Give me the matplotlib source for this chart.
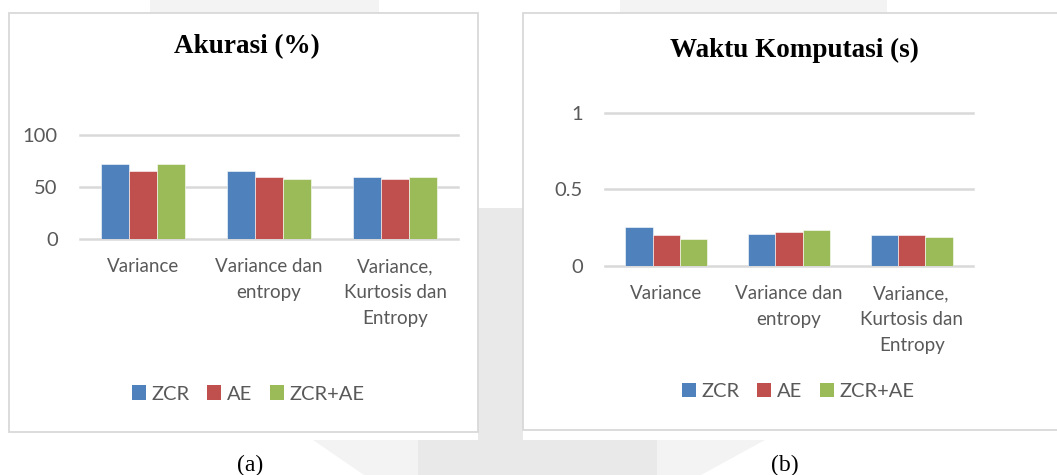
import matplotlib
matplotlib.use('Agg')
import matplotlib.pyplot as plt
import numpy as np
from matplotlib.patches import Rectangle, Polygon, Patch

# ---- data ----
categories = ["Variance", "Variance dan\nentropy", "Variance,\nKurtosis dan\nEntropy"]
series = ["ZCR", "AE", "ZCR+AE"]
akurasi_zcr = [72, 65, 60]
akurasi_ae = [65, 60, 57.5]
akurasi_zcrae = [72, 57.5, 60]
waktu_zcr = [0.255, 0.21, 0.2]
waktu_ae = [0.2, 0.22, 0.2]
waktu_zcrae = [0.175, 0.235, 0.19]
akurasi_ticks = [0, 50, 100]
akurasi_ticklabels = ["0", "50", "100"]
waktu_ticks = [0, 0.5, 1]
waktu_ticklabels = ["0", "0.5", "1"]
titles = ["Akurasi (%)", "Waktu Komputasi (s)"]
captions = ["(a)", "(b)"]

colors = ["#4F81BD", "#C0504D", "#9BBB59"]
grid_c = "#D9D9D9"
text_c = "#595959"
sans = ["Lato", "DejaVu Sans"]
serif = ["Liberation Serif", "DejaVu Serif"]

W, H = 1057, 475
fig = plt.figure(figsize=(W / 100, H / 100), dpi=100)
fig.patch.set_facecolor("white")

# background (pixel coordinates)
bg = fig.add_axes([0, 0, 1, 1], zorder=-10)
bg.set_xlim(0, W)
bg.set_ylim(H, 0)
bg.axis("off")
light, mid = "#F3F3F3", "#E9E9E9"
bg.add_patch(Rectangle((150, 0), 229, 13, color=light, lw=0))
bg.add_patch(Rectangle((620, 0), 267, 13, color=light, lw=0))
bg.add_patch(Rectangle((478, 208), 45, 235, color=mid, lw=0))
bg.add_patch(Polygon([(313, 440), (418, 440), (418, 475), (364, 475)], color=light, lw=0))
bg.add_patch(Rectangle((418, 440), 239, 35, color=mid, lw=0))
bg.add_patch(Polygon([(657, 440), (765, 440), (701, 475), (657, 475)], color=light, lw=0))
# panels
bg.add_patch(Rectangle((8.8, 12.7), 468.7, 418.8, facecolor="white", edgecolor=grid_c, lw=1.3))
bg.add_patch(Rectangle((522.7, 13.3), 545, 416.7, facecolor="white", edgecolor=grid_c, lw=1.3))


def px_axes(x0, x1, ytop, ybot):
    return fig.add_axes([x0 / W, 1 - ybot / H, (x1 - x0) / W, (ybot - ytop) / H])


def draw(ax, vals, ticks, ticklabels):
    x = np.arange(len(categories))
    bw = 0.222
    for i, (v, c) in enumerate(zip(vals, colors)):
        ax.bar(x + (i - 1) * bw, v, bw, color=c, edgecolor="white", linewidth=0.4, zorder=2, label=series[i])
    for t in ticks:
        ax.axhline(t, color=grid_c, lw=1.8, zorder=0.5, clip_on=False)
    ax.set_xlim(-0.5, len(categories) - 0.5)
    ax.set_ylim(ticks[0], ticks[-1])
    ax.set_yticks(ticks)
    ax.set_yticklabels(ticklabels, fontsize=14.5, color=text_c, family=sans)
    ax.set_xticks(x)
    ax.set_xticklabels(categories, fontsize=13.5, color=text_c, family=sans, linespacing=1.65)
    ax.tick_params(axis="y", length=0, pad=16)
    ax.tick_params(axis="x", length=0, pad=14)
    for s in ax.spines.values():
        s.set_visible(False)
    ax.patch.set_alpha(0)


ax1 = px_axes(80, 458, 135.3, 238.7)
draw(ax1, [akurasi_zcr, akurasi_ae, akurasi_zcrae], akurasi_ticks, akurasi_ticklabels)
ax2 = px_axes(605, 973, 113, 265.7)
draw(ax2, [waktu_zcr, waktu_ae, waktu_zcrae], waktu_ticks, waktu_ticklabels)

# titles
fig.text(247 / W, 1 - 46.7 / H, titles[0], ha="center", va="center", fontsize=19.5,
         fontweight="bold", family=serif, color="black")
fig.text(794 / W, 1 - 50 / H, titles[1], ha="center", va="center", fontsize=19.5,
         fontweight="bold", family=serif, color="black")

# legends
handles = [Patch(facecolor=c, edgecolor="none") for c in colors]
for cx, cy in [(248, 394), (798, 391.7)]:
    fig.legend(handles, series, loc="center", bbox_to_anchor=(cx / W, 1 - cy / H), ncol=3,
               frameon=False, handlelength=0.7, handleheight=0.7, handletextpad=0.25,
               columnspacing=0.9, prop={"family": sans, "size": 14.5}, labelcolor=text_c)

# captions
fig.text(250.5 / W, 1 - 465 / H, captions[0], ha="center", va="center", fontsize=17, family=serif)
fig.text(785 / W, 1 - 465 / H, captions[1], ha="center", va="center", fontsize=17, family=serif)

fig.savefig("out.png", dpi=100)
